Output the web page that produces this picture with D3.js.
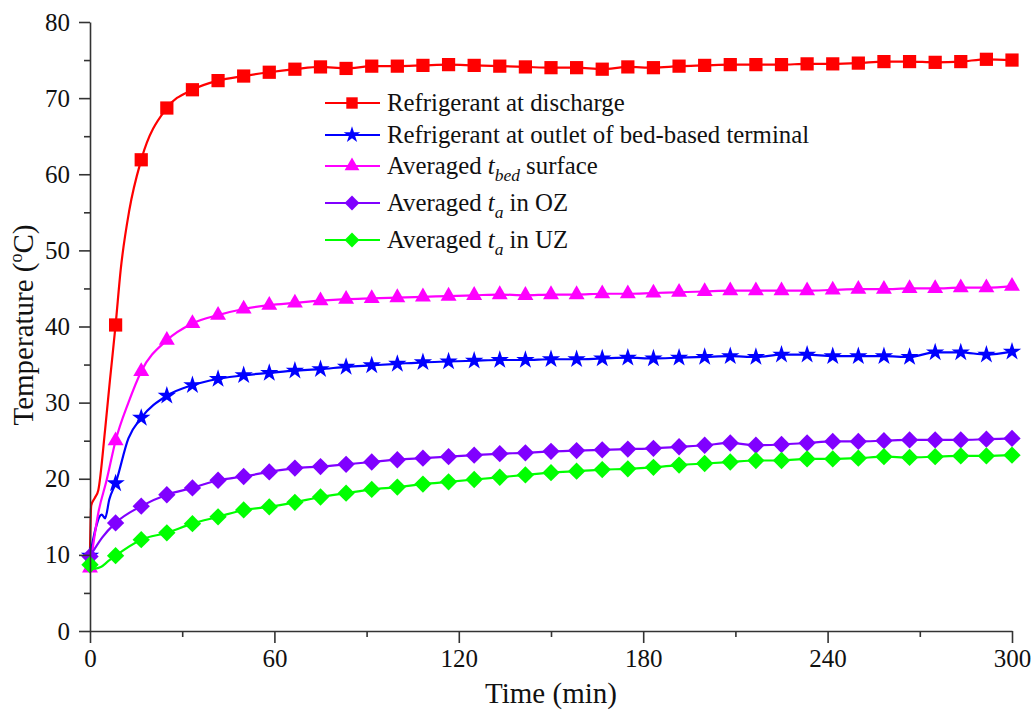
<!DOCTYPE html>
<html>
<head>
<meta charset="utf-8">
<script src="https://cdn.jsdelivr.net/npm/d3@7"></script>
<style>
  body { margin: 0; background: #fff; }
</style>
</head>
<body>
<div id="chart"></div>
<script>
// marker times (min)
const markerTimes = [0, 8.33, 16.67, 25, 33.33, 41.67, 50, 58.33, 66.67, 75, 83.33, 91.67,
  100, 108.33, 116.67, 125, 133.33, 141.67, 150, 158.33, 166.67, 175, 183.33, 191.67,
  200, 208.33, 216.67, 225, 233.33, 241.67, 250, 258.33, 266.67, 275, 283.33, 291.67, 300];

const discharge = [10.6, 40.2, 61.9, 68.7, 71.1, 72.3, 72.9, 73.4, 73.8, 74.1, 73.9, 74.2,
  74.2, 74.3, 74.4, 74.3, 74.2, 74.1, 74.0, 74.0, 73.8, 74.1, 74.0, 74.2,
  74.3, 74.4, 74.4, 74.4, 74.5, 74.5, 74.6, 74.8, 74.8, 74.7, 74.8, 75.1, 75.0];
const outlet = [9.9, 19.4, 28.0, 30.9, 32.3, 33.1, 33.6, 33.9, 34.2, 34.4, 34.7, 34.9,
  35.1, 35.3, 35.4, 35.5, 35.6, 35.6, 35.7, 35.7, 35.8, 35.9, 35.8, 35.9,
  36.0, 36.1, 36.0, 36.3, 36.3, 36.1, 36.1, 36.1, 36.0, 36.6, 36.6, 36.3, 36.7];
const bedSurface = [8.3, 25.0, 34.1, 38.2, 40.4, 41.5, 42.3, 42.8, 43.1, 43.4, 43.6, 43.7,
  43.8, 43.9, 44.0, 44.1, 44.2, 44.1, 44.2, 44.2, 44.3, 44.3, 44.4, 44.5,
  44.6, 44.7, 44.7, 44.7, 44.7, 44.8, 44.9, 44.9, 45.0, 45.0, 45.1, 45.1, 45.3];
const airOZ = [9.8, 14.2, 16.4, 17.9, 18.8, 19.8, 20.3, 20.9, 21.4, 21.6, 21.9, 22.2,
  22.5, 22.7, 22.9, 23.1, 23.3, 23.4, 23.6, 23.7, 23.8, 23.9, 24.0, 24.2,
  24.4, 24.7, 24.4, 24.5, 24.7, 24.9, 24.9, 25.0, 25.1, 25.1, 25.1, 25.2, 25.3];
const airUZ = [8.7, 9.9, 12.0, 12.9, 14.1, 15.0, 15.9, 16.3, 16.9, 17.6, 18.1, 18.6,
  18.9, 19.3, 19.6, 19.9, 20.2, 20.5, 20.8, 21.0, 21.2, 21.3, 21.5, 21.8,
  22.0, 22.2, 22.4, 22.4, 22.6, 22.6, 22.7, 22.9, 22.8, 22.9, 23.0, 23.0, 23.1];

// extra line points between markers in the fast start-up phase [t, value]
const dischargeExtra = [[0.4, 16.5], [1.6, 17.5], [2.7, 18.5], [4.9, 26.4], [6.5, 33.0], [10, 47.5], [12.8, 55.3]];
const outletExtra = [[3.8, 15.3], [4.9, 14.8], [6.3, 17.3], [12.5, 25.3]];
const bedExtra = [[2.7, 15.5], [5.4, 19.8], [12.5, 30.0]];
const ozExtra = [[4, 12.3]];
const uzExtra = [[1.5, 8.2], [3.5, 8.4], [6, 9.2]];

const xTicks = [0, 60, 120, 180, 240, 300];
const xMinor = [30, 90, 150, 210, 270];
const yTicks = [0, 10, 20, 30, 40, 50, 60, 70, 80];
const yMinor = [5, 15, 25, 35, 45, 55, 65, 75];

const series = [
  { name: "discharge", values: discharge, extra: dischargeExtra, color: "#ff0000", marker: "square", first: 1 },
  { name: "outlet", values: outlet, extra: outletExtra, color: "#0000ff", marker: "star", first: 0 },
  { name: "bed", values: bedSurface, extra: bedExtra, color: "#ff00ff", marker: "triangle", first: 0 },
  { name: "oz", values: airOZ, extra: ozExtra, color: "#8000ff", marker: "diamond", first: 0 },
  { name: "uz", values: airUZ, extra: uzExtra, color: "#00ff00", marker: "diamond", first: 0 }
];

const FONT = "Liberation Serif, DejaVu Serif, serif";
const width = 1036, height = 711;
const svg = d3.select("#chart").append("svg")
  .attr("width", width)
  .attr("height", height)
  .attr("font-family", FONT);

const x = d3.scaleLinear().domain([0, 300]).range([90, 1012]);
const y = d3.scaleLinear().domain([0, 80]).range([631, 22]);

function markerPath(type, big) {
  if (type === "square") return d3.symbol(d3.symbolSquare, big ? 175 : 130)();
  if (type === "star") return d3.symbol(d3.symbolStar, big ? 105 : 85)();
  if (type === "triangle") return d3.symbol(d3.symbolTriangle, big ? 110 : 95)();
  // diamond = rotated square
  return d3.symbol(d3.symbolSquare, big ? 150 : 110)();
}
function markerRot(type) { return type === "diamond" ? " rotate(45)" : ""; }

// lines + markers
const line = d3.line()
  .x(d => x(d[0]))
  .y(d => y(d[1]))
  .curve(d3.curveMonotoneX);

series.forEach(s => {
  const pts = markerTimes.map((t, i) => [t, s.values[i]]).concat(s.extra)
    .sort((a, b) => a[0] - b[0]);
  const g = svg.append("g");
  g.append("path")
    .datum(pts)
    .attr("fill", "none")
    .attr("stroke", s.color)
    .attr("stroke-width", 2.2)
    .attr("d", line);
  g.selectAll("path.mk")
    .data(markerTimes.map((t, i) => [t, s.values[i]]).slice(s.first))
    .enter().append("path")
    .attr("class", "mk")
    .attr("d", markerPath(s.marker, true))
    .attr("fill", s.color)
    .attr("transform", d => `translate(${x(d[0])},${y(d[1])})` + markerRot(s.marker));
});

// axes
const axisColor = "#333";
svg.append("g")
  .attr("transform", "translate(90,0)")
  .call(d3.axisLeft(y).tickValues(yTicks).tickSize(11).tickSizeOuter(0).tickPadding(9));
svg.append("g")
  .attr("transform", "translate(90,0)")
  .call(d3.axisLeft(y).tickValues(yMinor).tickSize(6).tickSizeOuter(0).tickFormat(""))
  .select(".domain").remove();

svg.append("g")
  .attr("transform", "translate(0,631)")
  .call(d3.axisBottom(x).tickValues(xTicks).tickSize(12).tickSizeOuter(0).tickPadding(6));
svg.append("g")
  .attr("transform", "translate(0,631)")
  .call(d3.axisBottom(x).tickValues(xMinor).tickSize(6).tickSizeOuter(0).tickFormat(""))
  .select(".domain").remove();

svg.selectAll("g").attr("font-family", FONT).attr("font-size", 25);
svg.selectAll(".domain, .tick line")
  .attr("stroke", axisColor)
  .attr("stroke-width", 1.6);
svg.selectAll(".tick text")
  .attr("font-family", FONT)
  .attr("font-size", 25)
  .attr("fill", "#111");

// axis titles
svg.append("text")
  .attr("x", 551)
  .attr("y", 703)
  .attr("text-anchor", "middle")
  .attr("font-size", 29)
  .attr("font-family", FONT)
  .attr("fill", "#111")
  .text("Time (min)");

const yTitle = svg.append("text")
  .attr("transform", "translate(33,325) rotate(-90)")
  .attr("text-anchor", "middle")
  .attr("font-size", 29)
  .attr("font-family", FONT)
  .attr("fill", "#111");
yTitle.append("tspan").text("Temperature (");
yTitle.append("tspan").attr("font-size", 18).attr("dy", -11).text("o");
yTitle.append("tspan").attr("dy", 11).text("C)");

// legend
const legendRows = [
  { s: series[0], y: 103, parts: [["Refrigerant at discharge"]] },
  { s: series[1], y: 135, parts: [["Refrigerant at outlet of bed-based terminal"]] },
  { s: series[2], y: 166, parts: [["Averaged "], ["t", "i"], ["bed", "sub"], [" surface"]] },
  { s: series[3], y: 203, parts: [["Averaged "], ["t", "i"], ["a", "sub"], [" in OZ"]] },
  { s: series[4], y: 240, parts: [["Averaged "], ["t", "i"], ["a", "sub"], [" in UZ"]] }
];

const legend = svg.append("g");
legendRows.forEach(r => {
  legend.append("line")
    .attr("x1", 325).attr("x2", 380)
    .attr("y1", r.y).attr("y2", r.y)
    .attr("stroke", r.s.color)
    .attr("stroke-width", 2.2);
  legend.append("path")
    .attr("d", markerPath(r.s.marker, false))
    .attr("fill", r.s.color)
    .attr("transform", `translate(352,${r.y})` + markerRot(r.s.marker));
  const t = legend.append("text")
    .attr("x", 387)
    .attr("y", r.y + 8)
    .attr("font-size", 24.8)
    .attr("font-family", FONT)
    .attr("fill", "#111");
  let shifted = false;
  r.parts.forEach(p => {
    const ts = t.append("tspan").text(p[0]);
    if (p[1] === "i") ts.attr("font-style", "italic");
    if (p[1] === "sub") {
      ts.attr("font-style", "italic").attr("font-size", 17.5).attr("dy", 7);
      shifted = true;
    } else if (shifted) {
      ts.attr("dy", -7);
      shifted = false;
    }
  });
});
</script>
</body>
</html>
